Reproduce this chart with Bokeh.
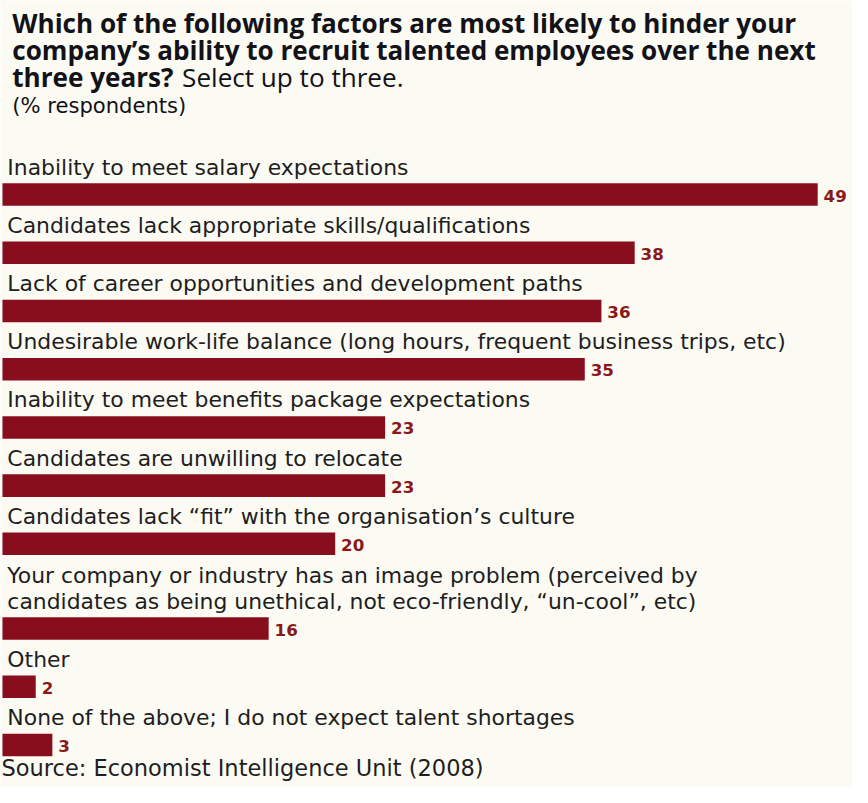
from bokeh.plotting import figure
from bokeh.models import Range1d, ColumnDataSource, Label
from bokeh.core.properties import value
from bokeh.embed import file_html
from bokeh.resources import INLINE

categories = [
    "Inability to meet salary expectations",
    "Candidates lack appropriate skills/qualifications",
    "Lack of career opportunities and development paths",
    "Undesirable work-life balance (long hours, frequent business trips, etc)",
    "Inability to meet benefits package expectations",
    "Candidates are unwilling to relocate",
    "Candidates lack \u201cfit\u201d with the organisation\u2019s culture",
    "Your company or industry has an image problem (perceived by\ncandidates as being unethical, not eco-friendly, \u201cun-cool\u201d, etc)",
    "Other",
    "None of the above; I do not expect talent shortages",
]
values = [49, 38, 36, 35, 23, 23, 20, 16, 2, 3]

title_bold = [
    "Which of the following factors are most likely to hinder your",
    "company\u2019s ability to recruit talented employees over the next",
    "three years?",
]
title_regular = "Select up to three."
subtitle = "(% respondents)"
source_note = "Source: Economist Intelligence Unit (2008)"

BG = "#fbfbf3"
BAR = "#880e1e"
VAL = "#8a1818"
TXT = "#1e1e22"
TITLE = "#121218"

# layout is designed on an 868x803 canvas, then scaled to the figure
REF_W, REF_H = 868, 803
W, H = 852, 787
sx, sy = W / REF_W, H / REF_H

def fs(px):
    return f"{px * sy:.1f}px"

PX_PER_UNIT = 16.95 * sx          # pixels per percentage point
ZERO_PX = 2 * sx                  # where 0% sits
x_start = -ZERO_PX / PX_PER_UNIT
x_end = x_start + W / PX_PER_UNIT

FIRST, SLOT, LINE_H = 198.0, 59.4, 27.0   # reference pixels
centers = []
extra = 0.0
for i, c in enumerate(categories):
    extra += c.count("\n") * LINE_H
    centers.append((FIRST + i * SLOT + extra) * sy)

bars = ColumnDataSource(dict(
    yc=centers, value=values, vtxt=[str(v) for v in values],
))

lx, ly, lt = [], [], []
for c, yc in zip(categories, centers):
    lines = c.split("\n")
    n = len(lines)
    for j, ln in enumerate(lines):
        lx.append(0)
        ly.append(yc - (28.0 + (n - 1 - j) * 26.0) * sy)
        lt.append(ln)
labels = ColumnDataSource(dict(x=lx, y=ly, t=lt))

p = figure(width=W, height=H, output_backend="svg", toolbar_location=None,
           x_range=Range1d(x_start, x_end), y_range=Range1d(H, 0),
           x_axis_location=None, y_axis_location=None, min_border=0,
           background_fill_color=BG, border_fill_color=BG, outline_line_color=None)
p.grid.visible = False

p.hbar(y="yc", left=0, right="value", height=23 * sy, source=bars,
       fill_color=BAR, line_color=None)
p.text(x="value", y="yc", text="vtxt", source=bars, x_offset=6 * sx, y_offset=1,
       text_baseline="middle", text_align="left",
       text_font=value("DejaVu Sans"), text_font_style="bold",
       text_font_size=fs(17), text_color=VAL)
p.text(x="x", y="y", text="t", source=labels, x_offset=5 * sx,
       text_baseline="middle", text_align="left",
       text_font=value("DejaVu Sans"), text_font_size=fs(22.3), text_color=TXT)

title_mid = [23, 51, 78]
for k, line in enumerate(title_bold):
    p.add_layout(Label(x=12 * sx, y=title_mid[k] * sy, x_units="screen", y_units="data",
                       text=line, text_font="Open Sans", text_font_style="bold",
                       text_font_size=fs(26.6), text_color=TITLE,
                       text_baseline="middle"))
p.add_layout(Label(x=185 * sx, y=title_mid[2] * sy, x_units="screen", y_units="data",
                   text=title_regular, text_font="Open Sans",
                   text_font_size=fs(26.6), text_color=TITLE,
                   text_baseline="middle"))
p.add_layout(Label(x=12 * sx, y=107 * sy, x_units="screen", y_units="data",
                   text=subtitle, text_font="DejaVu Sans",
                   text_font_size=fs(21.5), text_color=TITLE,
                   text_baseline="middle"))
p.add_layout(Label(x=1 * sx, y=783 * sy, x_units="screen", y_units="data",
                   text=source_note, text_font="DejaVu Sans",
                   text_font_size=fs(23), text_color=TXT,
                   text_baseline="middle"))

open("out.html", "w").write(file_html(p, INLINE))
